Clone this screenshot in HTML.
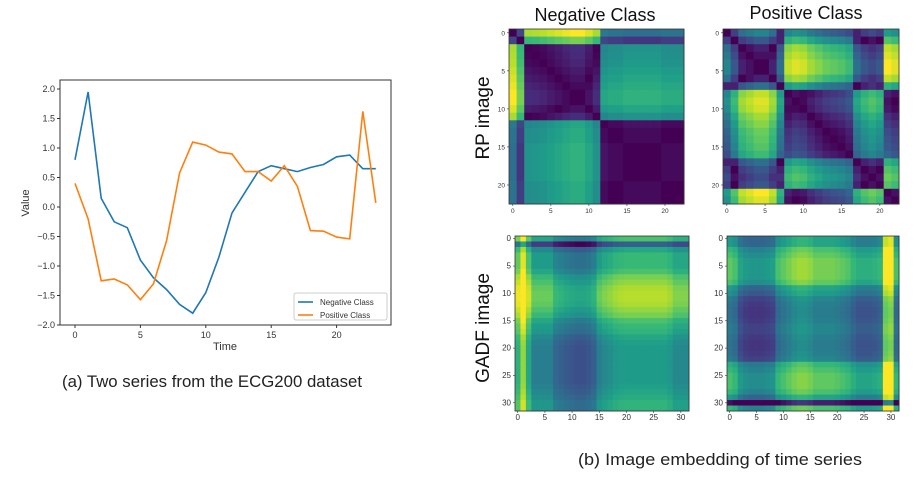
<!DOCTYPE html>
<html><head><meta charset="utf-8"><style>
html,body{margin:0;padding:0;background:#fff;}
svg{display:block;font-family:"Liberation Sans",sans-serif;}
</style></head><body>
<svg id="root" width="922" height="485" viewBox="0 0 922 485">
<g id="line-chart"></g>
<g id="heatmaps"></g>
<text x="62" y="387" font-size="17" textLength="300" lengthAdjust="spacingAndGlyphs" fill="#222">(a) Two series from the ECG200 dataset</text>
<text x="578" y="465" font-size="17" textLength="284" lengthAdjust="spacingAndGlyphs" fill="#222">(b) Image embedding of time series</text>
<text x="595" y="21" font-size="18" text-anchor="middle" fill="#111">Negative Class</text>
<text x="806" y="19" font-size="18" text-anchor="middle" fill="#111">Positive Class</text>
<text transform="translate(489,118) rotate(-90)" font-size="19" text-anchor="middle" fill="#111">RP image</text>
<text transform="translate(489,328) rotate(-90)" font-size="19" text-anchor="middle" fill="#111">GADF image</text>
</svg>
<script>
// ---- line chart data ----
const timeSteps = [0,1,2,3,4,5,6,7,8,9,10,11,12,13,14,15,16,17,18,19,20,21,22,23];
const negativeSeries = [0.8,1.95,0.15,-0.25,-0.35,-0.9,-1.2,-1.4,-1.65,-1.8,-1.45,-0.85,-0.1,0.25,0.6,0.7,0.65,0.6,0.67,0.72,0.85,0.88,0.65,0.65];
const positiveSeries = [0.4,-0.2,-1.25,-1.22,-1.32,-1.57,-1.3,-0.57,0.58,1.1,1.05,0.93,0.9,0.6,0.6,0.44,0.7,0.35,-0.4,-0.41,-0.51,-0.54,1.62,0.07];
const xTicks = [0,5,10,15,20];
const yTicks = [-2.0,-1.5,-1.0,-0.5,0.0,0.5,1.0,1.5,2.0];
// ---- heatmap data ----
const rpNegVector = [2.0,1.6,0.3,0.28,0.25,0.2,0.15,0.1,0.05,0.05,0.15,0.3,1.2,1.25,1.25,1.3,1.3,1.3,1.3,1.3,1.25,1.25,1.25];
const rpPosVector = [1.2,1.6,2.0,2.1,2.2,2.2,2.0,1.4,0.2,0.1,0.15,0.3,0.4,0.5,0.55,0.6,0.7,1.4,1.6,1.7,1.6,0.0,0.1];
const gadfNegRows = [0.5,0.0,0.35,0.45,0.45,0.45,0.5,0.6,0.65,0.7,0.72,0.72,0.7,0.65,0.6,0.5,0.45,0.42,0.35,0.32,0.3,0.3,0.3,0.3,0.3,0.3,0.3,0.32,0.35,0.38,0.42,0.42];
const gadfNegCols = [0.25,0.5,0.2,0.0,0.0,0.0,0.0,-0.12,-0.15,-0.18,-0.2,-0.22,-0.22,-0.2,-0.15,0.0,0.05,0.08,0.12,0.14,0.15,0.15,0.15,0.15,0.15,0.15,0.15,0.15,0.12,0.05,0.05,0.05];
const gadfPosRows = [0.3,0.3,0.45,0.5,0.55,0.55,0.55,0.55,0.5,0.3,0.25,0.15,0.12,0.1,0.1,0.12,0.15,0.15,0.12,0.1,0.1,0.12,0.15,0.4,0.45,0.5,0.5,0.5,0.45,0.3,-0.3,0.45];
const gadfPosCols = [0.15,0.1,-0.05,-0.1,-0.12,-0.12,-0.12,-0.1,-0.08,0.1,0.15,0.2,0.25,0.28,0.28,0.25,0.2,0.2,0.2,0.2,0.18,0.15,0.12,0.05,0.0,0.0,0.0,0.02,0.05,0.6,0.65,0.1];
const rpTicks = [0,5,10,15,20];
const gadfTicks = [0,5,10,15,20,25,30];

const NS = "http://www.w3.org/2000/svg";
function mk(tag, attrs, parent){const e=document.createElementNS(NS,tag);for(const k in attrs)e.setAttribute(k,attrs[k]);parent.appendChild(e);return e;}

// ---- line chart ----
const lc = document.getElementById('line-chart');
const AX = {l:60,t:80,r:391,b:325};
const xs = v => 75 + v*13.08;
const ys = v => 207 - v*59;
mk('rect',{x:AX.l,y:AX.t,width:AX.r-AX.l,height:AX.b-AX.t,fill:'#fff',stroke:'#333','stroke-width':1},lc);
xTicks.forEach(t=>{
  const ln=mk('line',{x1:xs(t),x2:xs(t),y1:AX.b,y2:AX.b+3,stroke:'#333'},lc);
  
  
  const tx=mk('text',{x:xs(t),y:AX.b+13,'font-size':9,'text-anchor':'middle',fill:'#333'},lc);
  tx.textContent=t;
  
  
});
yTicks.forEach(t=>{
  const ln=mk('line',{x1:AX.l-3,x2:AX.l,y1:ys(t),y2:ys(t),stroke:'#333'},lc);
  
  
  const tx=mk('text',{x:AX.l-5,y:ys(t)+3,'font-size':9,'text-anchor':'end',fill:'#333'},lc);
  tx.textContent=(t<0?'\u2212':'')+Math.abs(t).toFixed(1);
  
  
});
const xt=mk('text',{x:225,y:350,'font-size':11,'text-anchor':'middle',fill:'#333'},lc);
xt.textContent='Time';


const yt=mk('text',{transform:'translate(29,203) rotate(-90)','font-size':11,'text-anchor':'middle',fill:'#333'},lc);
yt.textContent='Value';


function drawLine(vals,color,name){
  const d=vals.map((v,i)=>(i?'L':'M')+xs(timeSteps[i]).toFixed(1)+','+ys(v).toFixed(1)).join('');
  const p=mk('path',{d:d,fill:'none',stroke:color,'stroke-width':1.6},lc);
  
  
}
drawLine(negativeSeries,'#1f77b4','negative-class-line');
drawLine(positiveSeries,'#ff7f0e','positive-class-line');
const lg=mk('g',{},lc);


mk('rect',{x:294,y:293,width:93,height:27,fill:'#fff',stroke:'#ccc',rx:2},lg);
[['Negative Class','#1f77b4',302],['Positive Class','#ff7f0e',315]].forEach(([lab,c,y])=>{
  mk('line',{x1:298,x2:313,y1:y,y2:y,stroke:c,'stroke-width':1.6},lg);
  const t=mk('text',{x:320,y:y+3,'font-size':8,fill:'#333'},lg);
  t.textContent=lab;
  
  
});

// ---- viridis ----
const VS=[[68,1,84],[72,40,120],[62,74,137],[49,104,142],[38,130,142],[31,158,137],[53,183,121],[109,205,89],[180,222,44],[253,231,37]];
function viridis(t){t=Math.max(0,Math.min(1,t));const f=t*(VS.length-1);const i=Math.min(VS.length-2,Math.floor(f));const u=f-i;const a=VS[i],b=VS[i+1];return 'rgb('+a.map((v,k)=>Math.round(v+(b[k]-v)*u)).join(',')+')';}

const hg=document.getElementById('heatmaps');
function drawHeat(x0,y0,w,h,n,valFn,ticks,name,tickFs){
  const g=mk('g',{},hg);
  
  
  const cw=w/n, ch=h/n;
  let mn=Infinity,mx=-Infinity;const M=[];
  for(let i=0;i<n;i++){M.push([]);for(let j=0;j<n;j++){const v=valFn(i,j);M[i].push(v);mn=Math.min(mn,v);mx=Math.max(mx,v);}}
  for(let i=0;i<n;i++)for(let j=0;j<n;j++){
    const r=mk('rect',{x:(x0+j*cw).toFixed(2),y:(y0+i*ch).toFixed(2),width:(cw+0.5).toFixed(2),height:(ch+0.5).toFixed(2),fill:viridis((M[i][j]-mn)/(mx-mn))},g);
    
    
  }
  mk('rect',{x:x0,y:y0,width:w,height:h,fill:'none',stroke:'#333','stroke-width':0.8},g);
  ticks.forEach(t=>{
    const px=x0+(t+0.5)*cw, py=y0+(t+0.5)*ch;
    mk('line',{x1:px,x2:px,y1:y0+h,y2:y0+h+2,stroke:'#333','stroke-width':0.6},g);
    mk('line',{x1:x0-2,x2:x0,y1:py,y2:py,stroke:'#333','stroke-width':0.6},g);
    const a=mk('text',{x:px,y:y0+h+9,'font-size':tickFs,'text-anchor':'middle',fill:'#333'},g);
    a.textContent=t;
    
    
    const b=mk('text',{x:x0-4,y:py+2.5,'font-size':tickFs,'text-anchor':'end',fill:'#333'},g);
    b.textContent=t;
    
    
  });
}
drawHeat(509,29,175,175,rpNegVector.length,(i,j)=>Math.abs(rpNegVector[i]-rpNegVector[j]),rpTicks,'rp-negative-heatmap',6.5);
drawHeat(723,29,176,175,rpPosVector.length,(i,j)=>Math.abs(rpPosVector[i]-rpPosVector[j]),rpTicks,'rp-positive-heatmap',6.5);
drawHeat(515,236,174,175,gadfNegRows.length,(i,j)=>Math.min(1,gadfNegRows[i]+gadfNegCols[j]),gadfTicks,'gadf-negative-heatmap',8);
drawHeat(727,236,172,175,gadfPosRows.length,(i,j)=>Math.max(-0.2,Math.min(1,gadfPosRows[i]+gadfPosCols[j])),gadfTicks,'gadf-positive-heatmap',8);
</script>
</body></html>
